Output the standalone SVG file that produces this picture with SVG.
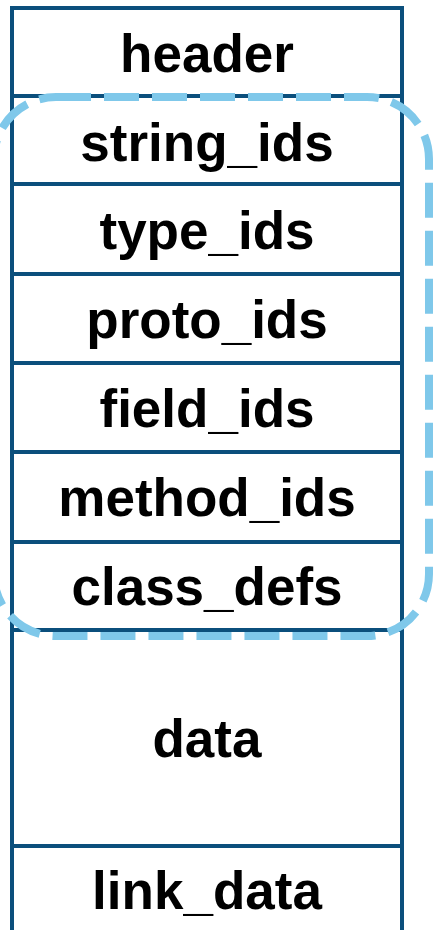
<svg xmlns="http://www.w3.org/2000/svg" width="433" height="930" viewBox="0 0 433 930">
  <style>
    .sec { fill: #ffffff; stroke: #0b4f7c; stroke-width: 4; }
    .lbl { font-family: "Liberation Sans", Arial, sans-serif; font-weight: bold; font-size: 53px; fill: #000000; text-anchor: middle; }
    .group { fill: none; stroke: #7fc8ea; stroke-width: 8; stroke-dasharray: 35 13; }
  </style>
  <rect x="0" y="0" width="433" height="930" fill="#ffffff"/>
  <g id="header"><rect class="sec" x="12" y="8" width="390" height="88"/><text class="lbl" x="207" y="72">header</text></g>
  <g id="string_ids"><rect class="sec" x="12" y="96" width="390" height="88"/><text class="lbl" x="207" y="161">string_ids</text></g>
  <g id="type_ids"><rect class="sec" x="12" y="184" width="390" height="90"/><text class="lbl" x="207" y="249">type_ids</text></g>
  <g id="proto_ids"><rect class="sec" x="12" y="274" width="390" height="89"/><text class="lbl" x="207" y="338">proto_ids</text></g>
  <g id="field_ids"><rect class="sec" x="12" y="363" width="390" height="89"/><text class="lbl" x="207" y="427">field_ids</text></g>
  <g id="method_ids"><rect class="sec" x="12" y="452" width="390" height="90"/><text class="lbl" x="207" y="516">method_ids</text></g>
  <g id="class_defs"><rect class="sec" x="12" y="542" width="390" height="88"/><text class="lbl" x="207" y="605">class_defs</text></g>
  <g id="data"><rect class="sec" x="12" y="630" width="390" height="216"/><text class="lbl" x="207" y="757">data</text></g>
  <g id="link_data"><rect class="sec" x="12" y="846" width="390" height="100"/><text class="lbl" x="207" y="909">link_data</text></g>
  <g id="connectors">
    <rect class="group" x="-6" y="97" width="435" height="539" rx="62" ry="62"/>
  </g>
</svg>
